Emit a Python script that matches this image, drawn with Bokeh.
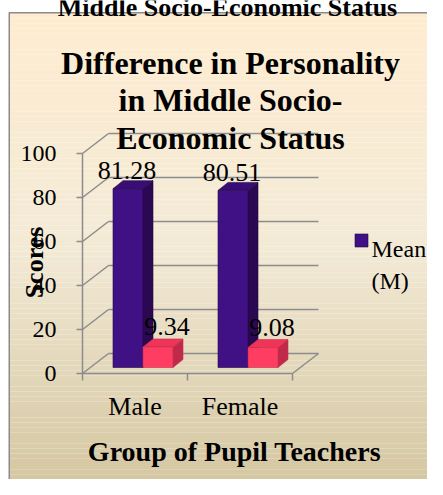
import numpy as np
from bokeh.plotting import figure
from bokeh.models import ColumnDataSource, LinearAxis, FixedTicker, Range1d
from bokeh.core.properties import value
from bokeh.embed import file_html
from bokeh.resources import INLINE

# ---------------- data ----------------
categories = ["Male", "Female"]
mean_values = [81.28, 80.51]
sd_values = [9.34, 9.08]
y_ticks = [0, 20, 40, 60, 80, 100]
legend_lines = ["Mean", "(M)"]
title_lines = ["Difference in Personality", "in Middle Socio-", "Economic Status"]
top_caption = "Middle Socio-Economic Status"
x_title = "Group of Pupil Teachers"
y_title = "Scores"

# ---------------- layout helpers ----------------
W, H = 427, 479
SX = 105.0      # pixels per category slot
SY = 2.2        # pixels per score unit
X0, Y0 = 82, 373   # screen position of (0, 0)
xmin = -X0 / SX
xmax = xmin + W / SX
ymax = Y0 / SY
ymin = ymax - H / SY


def px(sx):
    return xmin + sx / SX


def py(sy):
    return ymax - sy / SY


def dx(p):
    return p / SX


def dy(p):
    return p / SY


SERIF = value("Liberation Serif")
GRID = "#8c8c8c"
WX, WY = dx(26), dy(20)        # wall depth
BW = dx(30)                    # bar width
OX, OY = dx(8), dy(6)          # bar offset into depth
BX, BY = dx(10), dy(8)         # bar depth

p = figure(width=W, height=H, x_range=Range1d(xmin, xmax), y_range=Range1d(ymin, ymax),
           output_backend="svg", toolbar_location=None, x_axis_type=None, y_axis_type=None,
           min_border=0)
p.outline_line_color = None
p.background_fill_color = "white"
p.border_fill_color = "white"

# ---------------- background gradient ----------------
stops = [(0.0, (254, 236, 208)), (0.5, (243, 234, 214)), (1.0, (213, 199, 162))]


def grad(t):
    for (t0, c0), (t1, c1) in zip(stops[:-1], stops[1:]):
        if t <= t1:
            f = (t - t0) / (t1 - t0)
            return "#%02x%02x%02x" % tuple(int(round(a + (b - a) * f)) for a, b in zip(c0, c1))
    return "#%02x%02x%02x" % stops[-1][1]


n = 90
edges = np.linspace(py(12.5), ymin, n + 1)
p.quad(left=px(9), right=xmax + 1, top=edges[:-1], bottom=edges[1:],
       fill_color=[grad(i / (n - 1)) for i in range(n)], line_color=None)
p.quad(left=px(8.75), right=xmax + 1, top=py(12.25), bottom=ymin - 5,
       fill_color=None, line_color="#8a8a8a", line_width=1.5)

# top caption (cut off by the top edge, as in the source)
p.text(x=[px(227)], y=[py(7)], text=[top_caption], text_font=SERIF,
       text_font_style="bold", text_font_size="26px", text_align="center",
       text_baseline="alphabetic", text_color="black")

# ---------------- walls / floor ----------------
yt = np.array(y_ticks, dtype=float)
p.segment(x0=[WX] * len(yt), y0=yt + WY, x1=[2 + WX] * len(yt), y1=yt + WY,
          line_color=GRID, line_width=1.5)
p.segment(x0=[0] * len(yt), y0=yt, x1=[WX] * len(yt), y1=yt + WY,
          line_color=GRID, line_width=1.5)
p.segment(x0=[2], y0=[0], x1=[2 + WX], y1=[WY], line_color=GRID, line_width=1.5)

# ---------------- axes ----------------
yax = LinearAxis(fixed_location=0, bounds=(0, 100), ticker=FixedTicker(ticks=y_ticks))
yax.axis_line_color = GRID
yax.axis_line_width = 1.5
yax.major_tick_line_color = GRID
yax.major_tick_line_width = 1.5
yax.major_tick_out = 6
yax.major_tick_in = 0
yax.minor_tick_line_color = None
yax.major_label_text_font = "Liberation Serif"
yax.major_label_text_font_size = "24px"
yax.major_label_text_color = "black"
yax.major_label_standoff = 20
p.add_layout(yax, "left")

xax = LinearAxis(fixed_location=0, bounds=(0, 2), ticker=FixedTicker(ticks=[0, 1, 2]),
                 major_label_overrides={0: "", 1: "", 2: ""})
xax.axis_line_color = GRID
xax.axis_line_width = 1.5
xax.major_tick_line_color = GRID
xax.major_tick_line_width = 1.5
xax.major_tick_out = 7
xax.major_tick_in = 0
xax.minor_tick_line_color = None
p.add_layout(xax, "below")

cat_pos = [i + 0.5 for i in range(len(categories))]
cax = LinearAxis(fixed_location=0, ticker=FixedTicker(ticks=cat_pos),
                 major_label_overrides={c: lab for c, lab in zip(cat_pos, categories)})
cax.axis_line_color = None
cax.major_tick_line_color = None
cax.minor_tick_line_color = None
cax.major_tick_out = 0
cax.major_tick_in = 0
cax.major_label_standoff = 18
cax.major_label_text_font = "Liberation Serif"
cax.major_label_text_font_size = "26px"
cax.major_label_text_color = "black"
p.add_layout(cax, "below")


# ---------------- bars ----------------
def draw_bars(vals, slot, c_front, c_side, c_top, edge):
    left = [c - BW + OX + slot * BW for c in cat_pos]
    right = [l + BW for l in left]
    bottom = [OY] * len(vals)
    top = [v + OY for v in vals]
    src = ColumnDataSource(dict(left=left, right=right, bottom=bottom, top=top))
    side_xs = [[r, r + BX, r + BX, r] for r in right]
    side_ys = [[b, b + BY, t + BY, t] for b, t in zip(bottom, top)]
    top_xs = [[l, l + BX, r + BX, r] for l, r in zip(left, right)]
    top_ys = [[t, t + BY, t + BY, t] for t in top]
    p.patches(xs=side_xs, ys=side_ys, fill_color=c_side, line_color=edge, line_width=0.6)
    p.patches(xs=top_xs, ys=top_ys, fill_color=c_top, line_color=edge, line_width=0.6)
    p.quad(source=src, left="left", right="right", bottom="bottom", top="top",
           fill_color=c_front, line_color=edge, line_width=0.6)
    return [(l + r) / 2 for l, r in zip(left, right)]


PURPLE = "#401185"
mcx = draw_bars(mean_values, 0, PURPLE, "#2a0952", "#380e76", "#240845")
scx = draw_bars(sd_values, 1, "#ff3c62", "#c0294a", "#ee3459", "#c8304c")

# ---------------- data labels ----------------
p.text(x=mcx, y=[v + OY for v in mean_values], text=["%.2f" % v for v in mean_values],
       text_font=SERIF, text_font_size="26px", text_align="center",
       text_baseline="alphabetic", y_offset=-18, x_offset=-1, text_color="black")
p.text(x=scx, y=[v + OY for v in sd_values], text=["%.2f" % v for v in sd_values],
       text_font=SERIF, text_font_size="26px", text_align="center",
       text_baseline="alphabetic", y_offset=-20, x_offset=9, text_color="black")

# ---------------- titles ----------------
p.text(x=[px(230)] * 3, y=[py(62), py(99.5), py(137)], text=title_lines,
       text_font=SERIF, text_font_style="bold", text_font_size="32px",
       text_align="center", text_baseline="alphabetic", text_color="black")
p.text(x=[px(234)], y=[py(451)], text=[x_title], text_font=SERIF, text_font_style="bold",
       text_font_size="28px", text_align="center", text_baseline="alphabetic",
       text_color="black")
p.text(x=[px(34)], y=[py(262)], text=[y_title], text_font=SERIF, text_font_style="bold",
       text_font_size="26px", text_align="center", text_baseline="middle",
       angle=np.pi / 2, text_color="black")

# ---------------- legend ----------------
p.scatter(x=[px(361)], y=[py(240)], marker="square", size=13,
          fill_color=PURPLE, line_color="#240845", line_width=0.6)
p.text(x=[px(371)] * 2, y=[py(248), py(280)], text=legend_lines, text_font=SERIF,
       text_font_size="24px", text_align="left", text_baseline="alphabetic",
       text_color="black")

open("out.html", "w").write(file_html(p, INLINE))
